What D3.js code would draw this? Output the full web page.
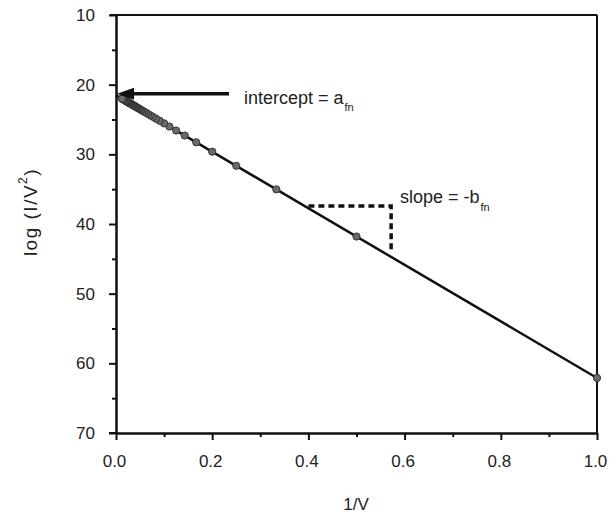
<!DOCTYPE html>
<html><head><meta charset="utf-8">
<script src="https://cdn.jsdelivr.net/npm/d3@7"></script>
<style>
body{margin:0;background:#fff;}
text{font-family:"Liberation Sans",Arial,Helvetica,sans-serif;fill:#222;}
</style></head>
<body><svg id="c" width="610" height="515"></svg>
<script>
// data: 1/V and log(I/V^2)
const invV = [1, 0.5, 0.3333, 0.25, 0.2, 0.1667, 0.1429, 0.125, 0.1111, 0.1,
  0.0909, 0.0833, 0.0769, 0.0714, 0.0667, 0.0625, 0.0588, 0.0556, 0.0526, 0.05,
  0.0476, 0.0455, 0.0435, 0.0417, 0.04, 0.0385, 0.037, 0.0357, 0.0345, 0.0333,
  0.0323, 0.0313, 0.0303, 0.0294, 0.0286, 0.0278, 0.027, 0.0263, 0.0256, 0.025,
  0.0244, 0.0238, 0.0233, 0.0227, 0.0222, 0.0217, 0.0213, 0.0208,
  0.02, 0.0182, 0.0167, 0.0154, 0.0143, 0.0133, 0.0125];
const logIV2 = [62.10, 41.80, 35.03, 31.65, 29.62, 28.27, 27.30, 26.58, 26.01, 25.56,
  25.19, 24.88, 24.62, 24.40, 24.21, 24.04, 23.89, 23.76, 23.64, 23.53,
  23.43, 23.35, 23.27, 23.19, 23.12, 23.06, 23.00, 22.95, 22.90, 22.85,
  22.81, 22.77, 22.73, 22.69, 22.66, 22.63, 22.60, 22.57, 22.54, 22.52,
  22.49, 22.47, 22.44, 22.42, 22.40, 22.38, 22.36, 22.35,
  22.31, 22.24, 22.18, 22.13, 22.08, 22.04, 22.01];
const fitX = [0, 1];
const fitY = [21.5, 62.1];
const xTicks = [0, 0.2, 0.4, 0.6, 0.8, 1.0];
const xMinor = [0.1, 0.3, 0.5, 0.7, 0.9];
const yTicks = [10, 20, 30, 40, 50, 60, 70];
const yMinor = [15, 25, 35, 45, 55, 65];
const interceptVal = 21.3;
const slopeCorner = [0.572, 37.4];
const slopeStartX = 0.4;
const slopeEndY = 44.0;

const svg = d3.select("#c");
const L = 116, R = 597, T = 15, B = 433;
const x = d3.scaleLinear().domain([0, 1]).range([L, R]);
const y = d3.scaleLinear().domain([10, 70]).range([T, B]);

// box top/right
svg.append("line").attr("x1", L - 6).attr("x2", R).attr("y1", T).attr("y2", T)
  .attr("stroke", "#111").attr("stroke-width", 2);
svg.append("line").attr("x1", R).attr("x2", R).attr("y1", T).attr("y2", B)
  .attr("stroke", "#111").attr("stroke-width", 2);

// axes
const xa = svg.append("g").attr("transform", `translate(0,${B})`)
  .call(d3.axisBottom(x).tickValues(xTicks).tickFormat(d3.format(".1f")).tickSize(7).tickPadding(15).tickSizeOuter(0));
const xm = svg.append("g").attr("transform", `translate(0,${B})`)
  .call(d3.axisBottom(x).tickValues(xMinor).tickFormat("").tickSize(4).tickSizeOuter(0));
const ya = svg.append("g").attr("transform", `translate(${L},0)`)
  .call(d3.axisLeft(y).tickValues(yTicks).tickFormat(d3.format("d")).tickSize(7).tickPadding(14).tickSizeOuter(0));
const ym = svg.append("g").attr("transform", `translate(${L},0)`)
  .call(d3.axisLeft(y).tickValues(yMinor).tickFormat("").tickSize(4).tickSizeOuter(0));
[xa, xm, ya, ym].forEach(g => {
  g.selectAll("path.domain").attr("stroke", "#111").attr("stroke-width", 2);
  g.selectAll(".tick line").attr("stroke", "#111").attr("stroke-width", 2);
  g.selectAll(".tick text").attr("font-size", 17).attr("fill", "#2a2a2a")
    .style("font-family", "'Liberation Sans',Arial,sans-serif");
});
xa.selectAll(".tick text").attr("dx", -2);
// extend x domain line to left tick
svg.append("line").attr("x1", L - 7).attr("x2", L).attr("y1", B).attr("y2", B)
  .attr("stroke", "#111").attr("stroke-width", 2);

// axis titles
svg.append("text").attr("x", 356).attr("y", 510).attr("text-anchor", "middle")
  .attr("font-size", 17).text("1/V");
const yt = svg.append("text").attr("transform", "translate(37,212) rotate(-90)")
  .attr("text-anchor", "middle").attr("font-size", 19).attr("letter-spacing", 1.5);
yt.append("tspan").text("log (I/V");
yt.append("tspan").attr("font-size", 12).attr("dy", -10).text("2");
yt.append("tspan").attr("dy", 10).text(")");

// fit line
svg.append("line").attr("x1", x(fitX[0])).attr("y1", y(fitY[0]))
  .attr("x2", x(fitX[1])).attr("y2", y(fitY[1]))
  .attr("stroke", "#111").attr("stroke-width", 2.5);

// points
svg.append("g").selectAll("circle").data(invV.map((v, i) => [v, logIV2[i]])).join("circle")
  .attr("cx", d => x(d[0])).attr("cy", d => y(d[1])).attr("r", 3.6)
  .attr("fill", "#6a6a6a").attr("stroke", "#333").attr("stroke-width", 1);

// intercept arrow
const ay = y(interceptVal);
svg.append("line").attr("x1", x(0) + 14).attr("x2", x(0.235)).attr("y1", ay).attr("y2", ay)
  .attr("stroke", "#111").attr("stroke-width", 3.5);
svg.append("path")
  .attr("d", `M${x(0) + 1},${ay} L${x(0) + 18},${ay - 6} L${x(0) + 18},${ay + 6} Z`)
  .attr("fill", "#111");
const it = svg.append("text").attr("x", 244).attr("y", 104).attr("font-size", 18);
it.append("tspan").text("intercept = a");
it.append("tspan").attr("font-size", 11).attr("dy", 7).attr("dx", 1).text("fn");

// slope triangle
svg.append("path")
  .attr("d", `M${x(slopeStartX)},${y(slopeCorner[1])} L${x(slopeCorner[0])},${y(slopeCorner[1])} L${x(slopeCorner[0])},${y(slopeEndY)}`)
  .attr("fill", "none").attr("stroke", "#111").attr("stroke-width", 3.5)
  .attr("stroke-dasharray", "6,4");
const st = svg.append("text").attr("x", 400).attr("y", 203).attr("font-size", 18);
st.append("tspan").text("slope = -b");
st.append("tspan").attr("font-size", 11).attr("dy", 8).attr("dx", 1).text("fn");
</script></body></html>
